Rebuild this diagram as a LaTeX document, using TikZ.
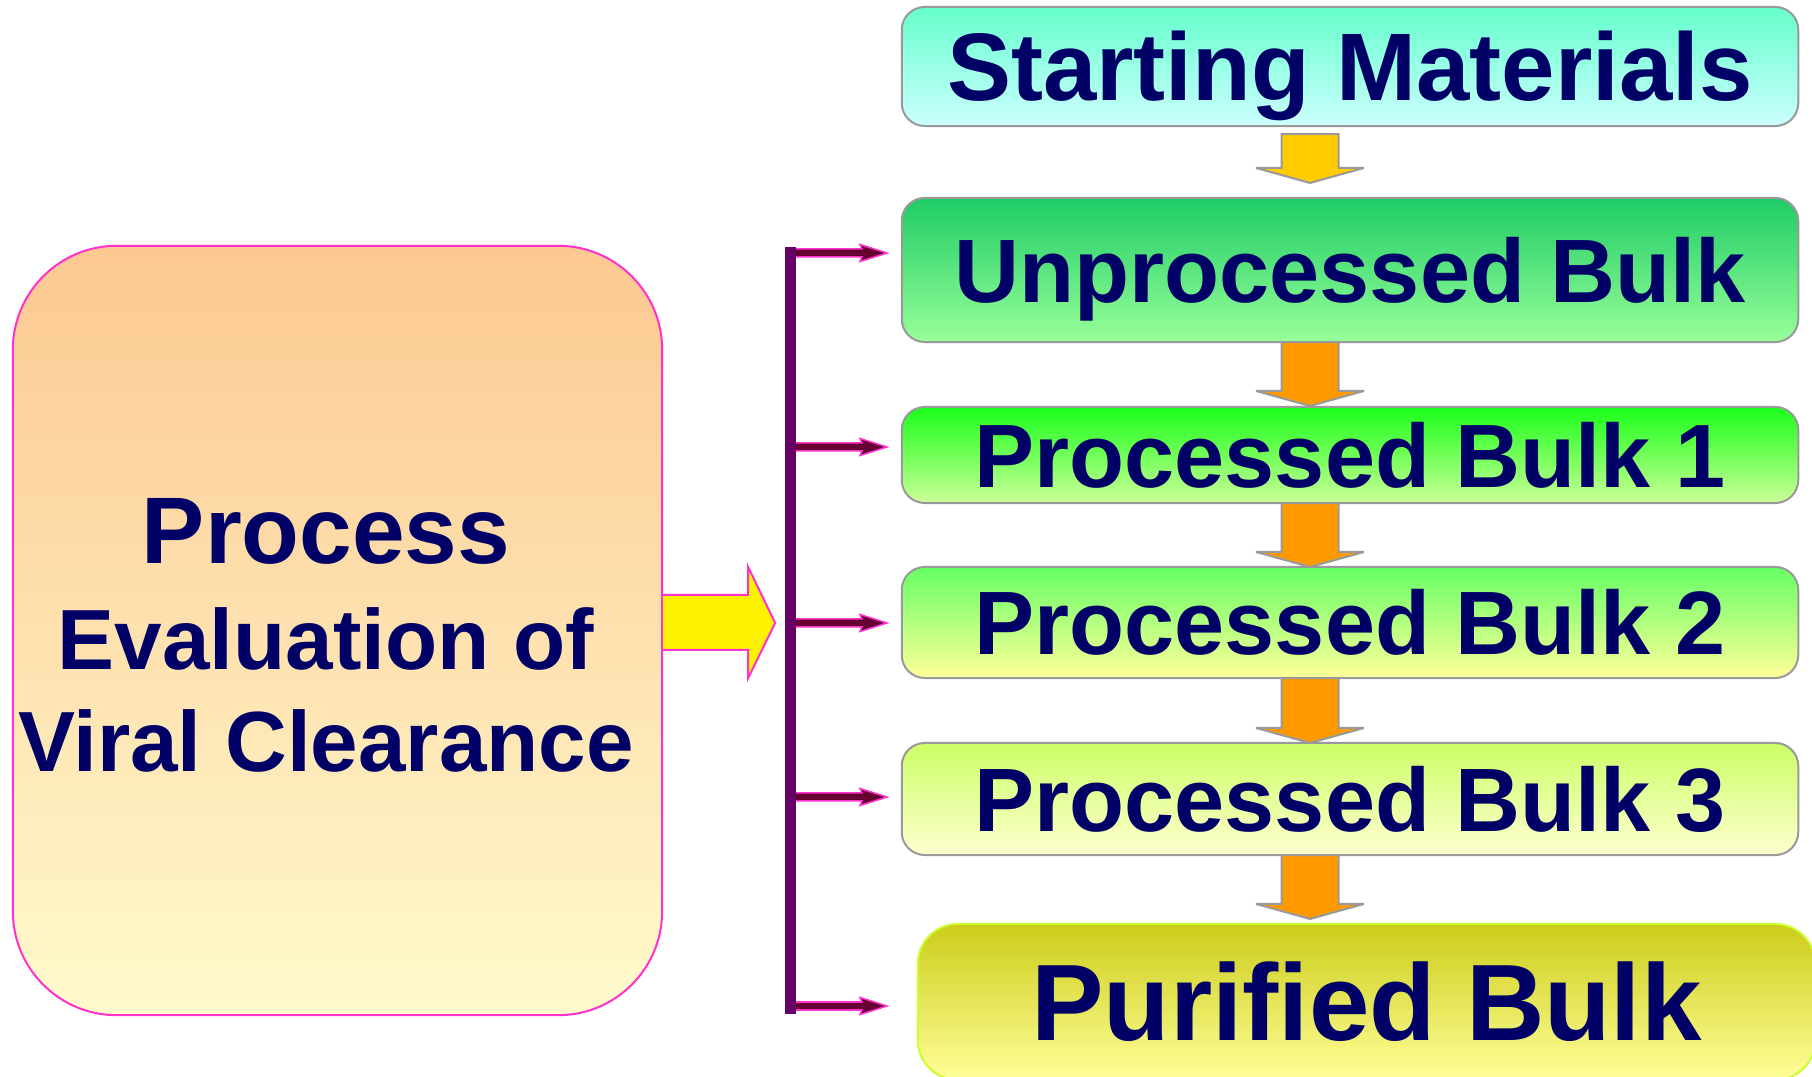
\documentclass[tikz,border=0pt]{standalone}
\usepackage{fontspec}
\setmainfont{Liberation Sans}
\usepackage{tikz}
\usetikzlibrary{calc}

\definecolor{navytext}{HTML}{000066}
\definecolor{boxgray}{HTML}{999999}
\definecolor{pinkline}{HTML}{FF33CC}
\definecolor{barpurple}{HTML}{660066}
\definecolor{tapmaroon}{HTML}{660033}
\definecolor{amber}{HTML}{FFCC00}
\definecolor{orangearr}{HTML}{FF9900}
\definecolor{startTop}{HTML}{66FFCC}
\definecolor{startBot}{HTML}{CCFFFF}
\definecolor{unprocTop}{HTML}{1ECC66}
\definecolor{unprocBot}{HTML}{99FF99}
\definecolor{pboneTop}{HTML}{1AFF1A}
\definecolor{pboneBot}{HTML}{CCFF99}
\definecolor{pbtwoTop}{HTML}{66FF66}
\definecolor{pbtwoBot}{HTML}{FFFF99}
\definecolor{pbthreeTop}{HTML}{CCFF66}
\definecolor{pbthreeBot}{HTML}{FFFFD0}
\definecolor{pureTop}{HTML}{CCCC1A}
\definecolor{pureBot}{HTML}{FFFF99}
\definecolor{pureLine}{HTML}{CCFF33}
\definecolor{evalTop}{HTML}{FCC891}
\definecolor{evalBot}{HTML}{FFFACC}

\begin{document}
\begin{tikzpicture}[x=0.01cm,y=-0.01cm,
		stagebox/.style={rectangle,rounded corners=0.23cm,draw=boxgray,line width=0.57pt,
			minimum width=8.96cm,inner sep=0pt,outer sep=0pt,text=navytext,
			font=\fontsize{25.6pt}{30pt}\selectfont\bfseries,text height=18.3pt,text depth=0pt},
		evallabel/.style={anchor=base,inner sep=0pt,text=navytext},
		downarrow/.style={draw=boxgray,line width=0.57pt,miter limit=2},
		taparrow/.style={draw=pinkline,fill=tapmaroon,line width=0.43pt}]
		\useasboundingbox (0,0) rectangle (1812,1077);
		\clip (0,0) rectangle (1812,1077);
%		\draw[help lines] (0,0) grid (1812,1077);

		% left block
		\path (337.5,630.5) node(evalbox) [rectangle,rounded corners=1.04cm,draw=pinkline,line width=0.57pt,
			minimum width=6.49cm,minimum height=7.69cm,top color=evalTop,bottom color=evalBot] {};
		\path (326,564) node(lblprocess) [evallabel,font=\fontsize{26.9pt}{32pt}\selectfont\bfseries] {Process};
		\path (326,670) node(lbleval) [evallabel,font=\fontsize{24.3pt}{29pt}\selectfont\bfseries] {Evaluation of};
		\path (326,772) node(lblviral) [evallabel,font=\fontsize{24.3pt}{29pt}\selectfont\bfseries] {Viral Clearance};

		% stages
		\path (1350,66.5) node(start) [stagebox,minimum height=1.19cm,top color=startTop,bottom color=startBot,
			font=\fontsize{27.3pt}{32pt}\selectfont\bfseries,text height=19.5pt] {Starting Materials};
		\path (1350,270) node(unproc) [stagebox,minimum height=1.44cm,top color=unprocTop,bottom color=unprocBot] {Unprocessed Bulk};
		\path (1350,455) node(pbone) [stagebox,minimum height=0.96cm,top color=pboneTop,bottom color=pboneBot] {Processed Bulk 1};
		\path (1350,622.5) node(pbtwo) [stagebox,minimum height=1.11cm,top color=pbtwoTop,bottom color=pbtwoBot] {Processed Bulk 2};
		\path (1350,799) node(pbthree) [stagebox,minimum height=1.12cm,top color=pbthreeTop,bottom color=pbthreeBot] {Processed Bulk 3};
		\path (1366.5,1002) node(pure) [stagebox,minimum width=8.97cm,minimum height=1.56cm,rounded corners=0.4cm,
			draw=pureLine,top color=pureTop,bottom color=pureBot,
			font=\fontsize{30.9pt}{36pt}\selectfont\bfseries,text height=22.1pt] {Purified Bulk};

		% block arrows between stages
		\path (1310,0) coordinate (spine);
		\foreach \a/\b/\gi/\go/\c in {start/unproc/8/15/amber, unproc/pbone/0/1/orangearr,
			pbone/pbtwo/0/0/orangearr, pbtwo/pbthree/0/0/orangearr, pbthree/pure/0/5/orangearr}
		{
			\path ($(spine |- \a.south)+(0,\gi)$) coordinate (tail);
			\path ($(spine |- \b.north)+(0,-\go)$) coordinate (head);
			\draw[downarrow,fill=\c] ($(tail)+(-28.5,0)$) -- ($(tail)+(28.5,0)$) -- ($(head)+(28.5,-15)$)
				-- ($(head)+(54,-15)$) -- (head) -- ($(head)+(-54,-15)$) -- ($(head)+(-28.5,-15)$) -- cycle;
		}

		% feed arrow
		\path ($(evalbox.east)+(0,-7.5)$) coordinate (feed);
		\draw[draw=pinkline,fill=yellow,line width=0.57pt] ($(feed)+(0,-28)$) -- ($(feed)+(85,-28)$) -- ($(feed)+(85,-56)$)
			-- ($(feed)+(112,0)$) -- ($(feed)+(85,55)$) -- ($(feed)+(85,27)$) -- ($(feed)+(0,27)$);

		% bracket with taps
		\path (790,247) coordinate (bartop);
		\path (790,1014) coordinate (barbot);
		\path (887,0) coordinate (tapline);
		\foreach \b/\dy in {unproc/-17, pbone/-8, pbtwo/0.5, pbthree/-2, pure/4}
		{
			\path ($(bartop |- \b.west)+(0,\dy)$) coordinate (tapfrom);
			\path (tapline |- tapfrom) coordinate (tapto);
			\draw[taparrow] ($(tapfrom)+(0,-4)$) -- ($(tapto)+(-25,-4)$) -- ($(tapto)+(-27,-8.5)$) -- (tapto)
				-- ($(tapto)+(-27,8.5)$) -- ($(tapto)+(-25,4)$) -- ($(tapfrom)+(0,4)$) -- cycle;
		}
		\draw[barpurple,line width=3.13pt] (bartop) -- (barbot);
	\end{tikzpicture}
\end{document}
